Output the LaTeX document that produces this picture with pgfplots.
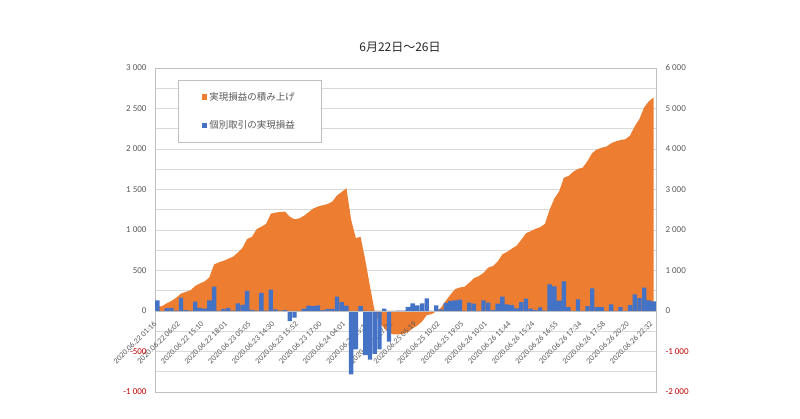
\documentclass[border=0pt]{standalone}
\usepackage{pgfplots}
\pgfplotsset{compat=1.18}
\usepackage{pgfplotstable}
\usepackage{fontspec}
\setmainfont{Carlito}
\newfontfamily\jp{Noto Sans CJK JP}
\definecolor{xlorange}{HTML}{ED7D31}
\definecolor{xlblue}{HTML}{4472C4}
\definecolor{gridgray}{HTML}{D9D9D9}
\definecolor{framegray}{HTML}{BFBFBF}
\definecolor{textgray}{HTML}{595959}
\definecolor{negred}{HTML}{C00000}

\pgfplotstableread{
x bar area
0 130 100
1 0 120
2 35 190
3 40 250
4 5 330
5 165 430
6 10 470
7 5 510
8 115 617
9 40 680
10 30 730
11 130 830
12 300 1150
13 5 1200
14 25 1240
15 40 1290
16 5 1340
17 95 1440
18 75 1560
19 247 1780
20 15 1830
21 5 2020
22 225 2080
23 5 2150
24 265 2400
25 20 2430
26 5 2445
27 10 2455
28 -124 2330
29 -82 2264
30 0 2285
31 30 2350
32 65 2440
33 60 2530
34 70 2580
35 10 2610
36 25 2640
37 25 2700
38 177 2850
39 108 2940
40 65 3031
41 -783 2250
42 -474 1800
43 60 1830
44 -544 1250
45 -600 600
46 -530 -20
47 -474 -300
48 30 -420
49 -379 -540
50 0 -576
51 5 -576
52 5 -565
53 50 -520
54 95 -430
55 70 -360
56 95 -260
57 157 -100
58 0 -80
59 68 -10
60 20 80
61 100 250
62 124 400
63 132 540
64 140 580
65 0 600
66 103 700
67 91 810
68 0 860
69 132 940
70 103 1070
71 12 1110
72 91 1220
73 177 1400
74 82 1460
75 74 1540
76 33 1610
77 111 1760
78 153 1920
79 29 1970
80 12 2030
81 45 2070
82 5 2150
83 330 2500
84 305 2780
85 128 2950
86 365 3290
87 49 3335
88 0 3440
89 144 3510
90 0 3540
91 60 3700
92 280 3900
93 49 3990
94 49 4030
95 0 4060
96 82 4140
97 0 4190
98 49 4220
99 0 4240
100 74 4330
101 206 4560
102 160 4740
103 290 5030
104 130 5180
105 120 5270
}\data

\begin{document}
\begin{tikzpicture}
\useasboundingbox (0,0) rectangle (800pt,419pt);
\begin{axis}[
  at={(155pt,27pt)}, anchor=south west, scale only axis,
  width=501pt, height=324pt,
  xmin=-0.5, xmax=105.5, ymin=-2000, ymax=6000,
  axis x line=none, axis y line*=right,
  y axis line style={draw=none},
  ytick={-2000,-1000,...,6000},
  yticklabels={{\color{negred}-2 000},{\color{negred}-1 000},0,1 000,2 000,3 000,4 000,5 000,6 000},
  minor ytick={-1500,-500,...,5500},
  ymajorgrids, yminorgrids,
  major grid style={gridgray, line width=0.6pt},
  minor grid style={gridgray, line width=0.6pt},
  major tick length=0pt, minor tick length=0pt,
  yticklabel style={font=\fontsize{9}{10}\selectfont, text=textgray, xshift=6pt},
]
\addplot[fill=xlorange, draw=none] table[x=x,y=area]{\data} \closedcycle;
\end{axis}
\begin{axis}[
  at={(155pt,27pt)}, anchor=south west, scale only axis,
  width=501pt, height=324pt,
  xmin=-0.5, xmax=105.5, ymin=-1000, ymax=3000,
  axis line style={framegray, line width=0.7pt},
  ytick pos=left, xtick pos=bottom,
  ytick={-1000,-500,...,3000},
  yticklabels={{\color{negred}-1 000},{\color{negred}-500},0,500,1 000,1 500,2 000,2 500,3 000},
  xtick={0,5,...,105},
  xticklabels={2020.06.22 01:16,2020.06.22 06:02,2020.06.22 15:10,2020.06.22 18:01,2020.06.23 05:05,2020.06.23 14:30,2020.06.23 15:52,2020.06.23 17:00,2020.06.24 04:01,2020.06.24 15:16,2020.06.24 17:22,2020.06.25 05:19,2020.06.25 10:02,2020.06.25 19:05,2020.06.26 10:01,2020.06.26 11:44,2020.06.26 15:24,2020.06.26 16:55,2020.06.26 17:34,2020.06.26 17:58,2020.06.26 20:20,2020.06.26 22:32},
  major tick length=0pt,
  yticklabel style={font=\fontsize{9}{10}\selectfont, text=textgray, xshift=-5pt},
  xticklabel style={font=\fontsize{8}{9}\selectfont, text=textgray, yshift=72pt, rotate=45, anchor=east},
  ybar, bar width=0.92,
  legend image code/.code={\fill[#1] (0pt,-2.6pt) rectangle (5.2pt,2.6pt);},
  legend cell align=left,
  legend style={at={(0.046,0.963)}, anchor=north west, draw=framegray,
    font=\jp\fontsize{9.5}{11}\selectfont, text=textgray,
    inner xsep=24pt, inner ysep=10pt, row sep=15pt},
]
\addlegendimage{fill=xlorange, draw=none}
\addlegendentry{実現損益の積み上げ}
\addplot[fill=xlblue, draw=none] table[x=x,y=bar]{\data};
\addlegendentry{個別取引の実現損益}
\draw[framegray, line width=0.7pt] (axis cs:-0.5,0) -- (axis cs:105.5,0);
\end{axis}
\node[font=\jp\fontsize{12}{14}\selectfont, text=black!85] at (400pt,372pt) {6月22日～26日};
\end{tikzpicture}
\end{document}
